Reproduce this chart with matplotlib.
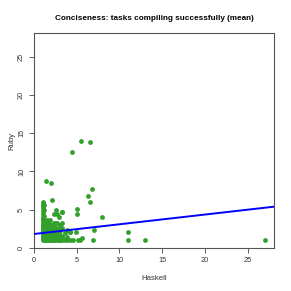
import matplotlib
matplotlib.use("Agg")
import matplotlib.pyplot as plt

plt.rcParams['font.family'] = ['Liberation Sans', 'DejaVu Sans']

title = "Conciseness: tasks compiling successfully (mean)"
xlabel = "Haskell"
ylabel = "Ruby"
ticks = [0, 5, 10, 15, 20, 25]

# dense cluster, per Haskell column
cluster = {
    1.0: [1, 1.2, 1.4, 1.6, 1.8, 2, 2.2, 2.4, 2.6, 2.8, 3, 3.2, 3.4, 3.6, 3.8, 4, 4.5, 4.8, 5.2, 5.5, 5.8, 6.0],
    1.15: [1, 1.3, 1.7, 2.1, 2.5, 2.9, 3.3, 3.7, 4.2, 5.0, 5.6],
    1.3: [1, 1.25, 1.5, 2, 2.4, 2.8, 3.2, 3.5],
    1.5: [1, 1.2, 1.5, 1.8, 2.2, 2.6, 3.0, 3.4, 3.7],
    1.7: [1, 1.3, 1.7, 2.0, 2.3, 2.7, 3.1],
    1.9: [1, 1.2, 1.6, 2.0, 2.4, 2.8, 3.6],
    2.1: [1, 1.4, 1.8, 2.2, 2.6, 3.0],
    2.3: [1, 1.2, 1.5, 2.0, 2.5, 3.3, 4.5],
    2.5: [1, 1.3, 1.7, 2.3, 2.8, 3.3],
    2.7: [1, 1.5, 2.0, 2.5, 3.3, 4.5],
    2.9: [1, 1.2, 1.8, 2.4, 4.0],
    3.1: [1, 1.4, 2.2, 2.7, 3.0],
    3.3: [1, 1.6, 2.6, 3.3, 4.7],
    3.6: [1, 1.2, 2.0],
    3.9: [1, 1.5, 2.3],
    4.2: [1, 2.1],
    4.6: [1.05],
}
haskell_out = [5.5, 6.6, 4.5, 1.45, 2.0, 6.8, 6.3, 6.5, 2.15, 5.0, 5.0, 8.0, 7.0, 11.0, 11.0, 13.0, 6.9, 5.4, 5.6, 5.2, 4.9, 4.2, 3.25, 2.6, 27.0]
ruby_out = [14.0, 13.8, 12.5, 8.7, 8.55, 7.7, 6.75, 6.05, 6.3, 5.15, 4.5, 4.0, 2.4, 2.05, 1.05, 1.05, 1.05, 1.1, 1.3, 1.05, 2.1, 2.1, 4.7, 5.0, 1.05]

fit_intercept = 1.83
fit_slope = 0.127

haskell = []
ruby = []
for hx, ys in cluster.items():
    for yv in ys:
        haskell.append(hx)
        ruby.append(yv)
haskell += haskell_out
ruby += ruby_out

fig = plt.figure(figsize=(2.91, 2.91), dpi=100)
ax = fig.add_axes([34/291, 1-248/291, 240/291, 215/291])
ax.scatter(haskell, ruby, s=12, color='#33a02c', linewidths=0, zorder=3)
ax.axline((0, fit_intercept), slope=fit_slope, color='#0000ff', lw=1.4, zorder=4)
ax.set_xlim(0, 28.1)
ax.set_ylim(0, 28.1)
ax.set_xticks(ticks)
ax.set_yticks(ticks)
ax.tick_params(direction='out', length=3.5, width=0.6, colors='#444444', labelsize=5.3, pad=3, labelcolor='#333333')
for lab in ax.get_yticklabels():
    lab.set_rotation(90)
    lab.set_va('center')
for sp in ax.spines.values():
    sp.set_color('#555555')
    sp.set_linewidth(0.8)
ax.set_xlabel(xlabel, fontsize=5.6, labelpad=8, color='#333333')
ax.set_ylabel(ylabel, fontsize=5.6, labelpad=2, color='#333333')
fig.text(154/291, 1-18/291, title, fontsize=5.9, fontweight='bold', ha='center', va='center')
fig.savefig('out.png', dpi=100)
